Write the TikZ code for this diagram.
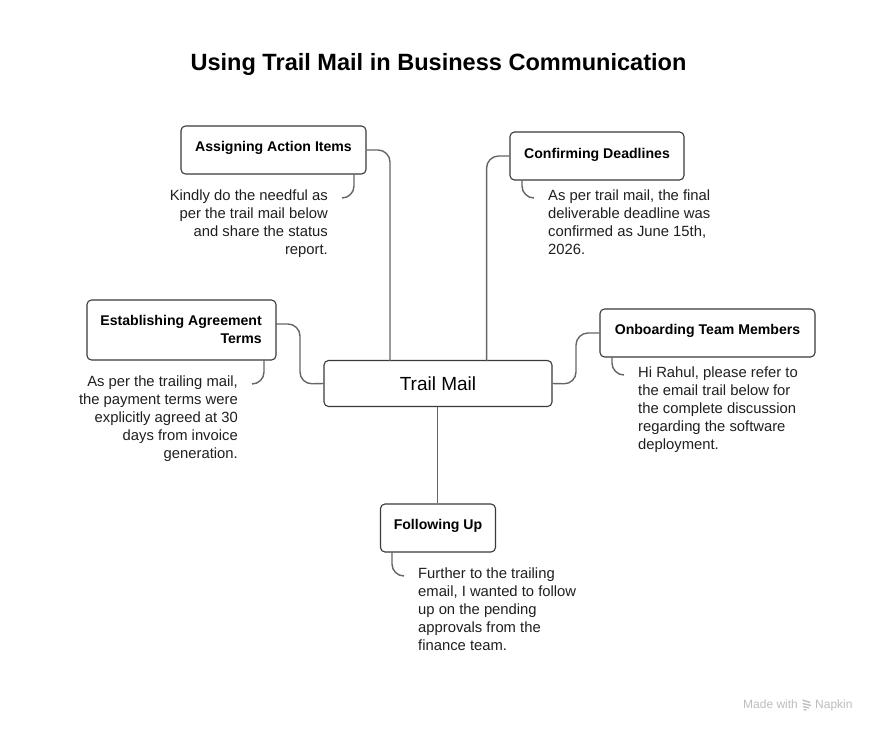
\documentclass[tikz,border=0pt]{standalone}
\usepackage{fontspec}
\setmainfont{Liberation Sans}
\definecolor{linecol}{HTML}{666666}
\definecolor{boxline}{HTML}{3A3A3A}
\definecolor{markgray}{HTML}{BDBDBD}
\tikzset{
  box/.style={draw=boxline,line width=1.1pt,rounded corners=4.5pt,fill=white,inner sep=0pt,minimum height=48pt,font=\fontsize{14.1}{18}\selectfont\bfseries,align=right},
  boxtext/.style={inner sep=0pt,font=\fontsize{14.1}{18}\selectfont\bfseries},
  conn/.style={draw=linecol,line width=1.4pt,rounded corners=12pt},
  note/.style={inner sep=0pt,font=\fontsize{14.8}{18}\selectfont,text=black!88},
  titletext/.style={inner sep=0pt,font=\fontsize{23.55}{30}\selectfont\bfseries},
  wmtext/.style={inner sep=0pt,font=\fontsize{12}{14}\selectfont,text=markgray},
  wmline/.style={draw=markgray,line width=1.3pt}
}
\begin{document}
\begin{tikzpicture}[x=1pt,y=-1pt]
\useasboundingbox (0,0) rectangle (876,732);
\fill[white] (0,0) rectangle (876,732);
\node[titletext] (ttl) at (438.5,64) {Using Trail Mail in Business Communication};
% boxes
\node[box,minimum width=228pt,minimum height=46pt,font=\fontsize{19}{22}\selectfont] (main) at (438,383.5) {Trail Mail};
\node[box,minimum width=185pt] (assign) at (273.5,150) {};
\node[boxtext,anchor=base] (assignT) at (273.5,151) {Assigning Action Items};
\node[box,minimum width=174pt] (confirm) at (597,156) {};
\node[boxtext,anchor=base] (confirmT) at (597,158) {Confirming Deadlines};
\node[box,minimum width=189pt,minimum height=60pt] (estab) at (181.5,330) {};
\node[boxtext,align=right,anchor=north east] (estabT) at (262,315) {Establishing Agreement\\Terms};
\node[box,minimum width=215pt] (onb) at (707.5,333) {};
\node[boxtext,anchor=base] (onbT) at (707.5,334) {Onboarding Team Members};
\node[box,minimum width=115pt] (follow) at (438,528) {};
\node[boxtext,anchor=base] (followT) at (438,529) {Following Up};
% notes
\node[note,align=right,anchor=north east] (assignN) at (328,189.5) {Kindly do the needful as\\per the trail mail below\\and share the status\\report.};
\node[note,align=left,anchor=north west] (confirmN) at (548,189.5) {As per trail mail, the final\\deliverable deadline was\\confirmed as June 15th,\\2026.};
\node[note,align=right,anchor=north east] (estabN) at (238,375.5) {As per the trailing mail,\\the payment terms were\\explicitly agreed at 30\\days from invoice\\generation.};
\node[note,align=left,anchor=north west] (onbN) at (638,366.5) {Hi Rahul, please refer to\\the email trail below for\\the complete discussion\\regarding the software\\deployment.};
\node[note,align=left,anchor=north west] (followN) at (418,567.5) {Further to the trailing\\email, I wanted to follow\\up on the pending\\approvals from the\\finance team.};
% ports
\coordinate (pA) at (390,361);
\coordinate (pC) at (486.6,361);
\coordinate (eS) at (276,324);
\coordinate (hAa) at (354,174);\coordinate (hAb) at (342,198);
\coordinate (hCa) at (522,180);\coordinate (hCb) at (534,198);
\coordinate (hEa) at (264,360);\coordinate (hEb) at (252,384);
\coordinate (hOa) at (612,357);\coordinate (hOb) at (624,375);
\coordinate (hFa) at (392,552);\coordinate (hFb) at (404,576);
% connectors
\draw[conn] (assign.east) -| (pA);
\draw[conn] (confirm.west) -| (pC);
\draw[conn] (eS) -- (300,324) -- (300,384) -- (main.west);
\draw[conn] (onb.west) -- (576,333) -- (576,384) -- (main.east);
\draw[conn] ([xshift=-.4pt]main.south) -- ([xshift=-.4pt]follow.north);
\draw[conn] (hAa) |- (hAb);
\draw[conn] (hCa) |- (hCb);
\draw[conn] (hEa) |- (hEb);
\draw[conn] (hOa) |- (hOb);
\draw[conn] (hFa) |- (hFb);
% watermark
\node[wmtext,anchor=base west] (mw) at (743,708) {Made with};
\node[wmtext,anchor=base west] (np) at (815,708) {Napkin};
\draw[wmline] (802.5,700) -- (810,702.5) (802.5,703.5) -- (811,705.5) (803,706.5) -- (809,708) (803.5,709.5) -- (806.5,710);
\end{tikzpicture}
\end{document}
